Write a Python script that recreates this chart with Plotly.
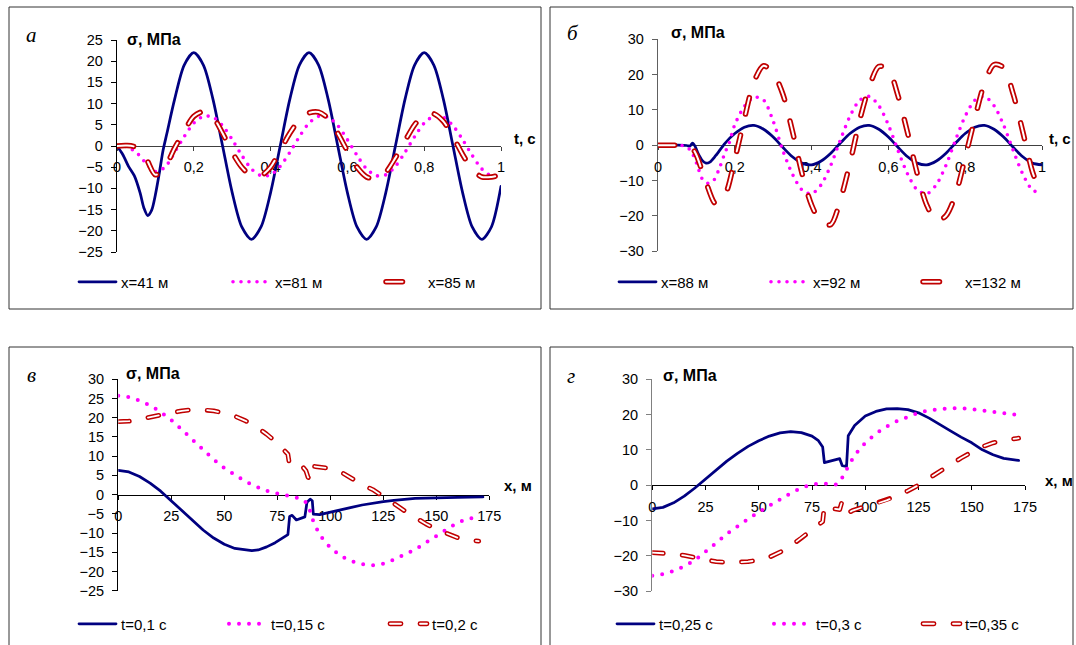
import plotly.graph_objects as go

W, H = 1076, 645
FONT = "Liberation Sans, Arial, sans-serif"
SERIF = "Liberation Serif, Times New Roman, serif"
NAVY, MAGENTA, RED = "#000080", "#FF00FF", "#C00000"

# ---------------- data ----------------
T025 = [0, 0.025, 0.05, 0.075, 0.1, 0.125, 0.15, 0.175, 0.2, 0.225, 0.25, 0.275, 0.3,
        0.325, 0.35, 0.375, 0.4, 0.425, 0.45, 0.475, 0.5, 0.525, 0.55, 0.575, 0.6, 0.625,
        0.65, 0.675, 0.7, 0.725, 0.75, 0.775, 0.8, 0.825, 0.85, 0.875, 0.9, 0.925, 0.95,
        0.975, 1.0]

# panel a : sigma(t), x = 41, 81, 85 m
t_a41 = [0, 0.015, 0.03, 0.045, 0.06, 0.07, 0.08, 0.09, 0.1, 0.11, 0.12, 0.13, 0.15,
         0.175, 0.2, 0.225, 0.25, 0.275, 0.3, 0.325, 0.35, 0.375, 0.4, 0.425, 0.45, 0.475,
         0.5, 0.525, 0.55, 0.575, 0.6, 0.625, 0.65, 0.675, 0.7, 0.725, 0.75, 0.775, 0.8,
         0.825, 0.85, 0.875, 0.9, 0.925, 0.95, 0.975, 1.0]
s_a41 = [0, -2.0, -4.8, -7.0, -11.0, -14.6, -16.4, -15.2, -11.5, -6.5, -1.0, 3.0, 11.0,
         19.1, 22.0, 19.1, 11.0, 0.0, -11.0, -19.1, -22.0, -19.1, -11.0, 0.0, 11.0, 19.1,
         22.0, 19.1, 11.0, 0.0, -11.0, -19.1, -22.0, -19.1, -11.0, 0.0, 11.0, 19.1, 22.0,
         19.1, 11.0, 0.0, -11.0, -19.1, -22.0, -19.1, -9.5]
s_a81 = [0, -0.2, -1.5, -4.0, -6.0, -5.0, -1.5, 2.2, 5.4, 7.0, 6.8, 4.8, 1.5, -2.2, -5.4,
         -7.0, -6.8, -4.8, -1.5, 2.2, 5.4, 7.0, 6.8, 4.8, 1.5, -2.2, -5.4, -7.0, -6.8, -4.8,
         -1.5, 2.2, 5.4, 7.0, 6.8, 4.8, 1.5, -2.2, -5.4, -7.0, -6.8]
s_a85 = [0, 0.1, -0.3, -2.8, -6.8, -5.0, -0.5, 3.5, 7.0, 8.1, 6.8, 3.0, -1.5, -5.0, -7.0,
         -7.0, -5.0, -1.0, 3.0, 6.2, 7.8, 8.0, 6.5, 3.0, -1.2, -5.0, -7.3, -7.7, -6.2, -2.8,
         1.2, 5.0, 7.4, 7.6, 5.8, 2.2, -2.0, -5.5, -7.3, -7.3, -6.8]

# panel b : sigma(t), x = 88, 92, 132 m
t_b88 = [0, 0.025, 0.05, 0.075, 0.083, 0.09, 0.097, 0.105, 0.115, 0.125, 0.135, 0.15,
         0.175, 0.2, 0.225, 0.25, 0.275, 0.3, 0.325, 0.35, 0.375, 0.4, 0.425, 0.45, 0.475,
         0.5, 0.525, 0.55, 0.575, 0.6, 0.625, 0.65, 0.675, 0.7, 0.725, 0.75, 0.775, 0.8,
         0.825, 0.85, 0.875, 0.9, 0.925, 0.95, 0.975, 1.0]
s_b88 = [0, 0, 0, -0.1, -0.3, 0.6, -0.4, -2.5, -4.3, -5.1, -4.8, -3.0,
         0.6, 3.3, 5.1, 5.6, 4.5, 2.3, -0.6, -3.3, -5.1, -5.6, -4.5, -2.3, 0.6, 3.3, 5.1,
         5.6, 4.5, 2.3, -0.6, -3.3, -5.1, -5.6, -4.5, -2.3, 0.6, 3.3, 5.1, 5.6, 4.5, 2.3,
         -0.6, -3.3, -5.1, -5.6]
t_b92 = [0, 0.025, 0.05, 0.07, 0.085, 0.1, 0.115, 0.13, 0.145, 0.16, 0.175, 0.185, 0.2,
         0.225, 0.25, 0.275, 0.3, 0.325, 0.35, 0.375, 0.4, 0.425, 0.45, 0.475, 0.5, 0.525,
         0.55, 0.575, 0.6, 0.625, 0.65, 0.675, 0.7, 0.725, 0.75, 0.775, 0.8, 0.825, 0.85,
         0.875, 0.9, 0.925, 0.95, 0.975, 1.0]
s_b92 = [0, 0, 0, -0.3, -1.5, -5.0, -9.5, -10.8, -10.0, -6.5, -2.0, 0.5, 5.8,
         11.0, 13.6, 12.8, 6.8, -1.5, -8.2, -12.7, -13.8, -11.2, -5.7, 1.5, 8.2, 12.7,
         13.8, 11.2, 5.7, -1.5, -8.2, -12.7, -13.8, -11.2, -5.7, 1.5, 8.2, 12.7, 13.8,
         11.2, 5.7, -1.5, -8.2, -12.7, -13.6]
t_b132 = [0, 0.025, 0.05, 0.075, 0.09, 0.1, 0.125, 0.15, 0.175, 0.2, 0.225, 0.25, 0.275,
          0.3, 0.325, 0.35, 0.375, 0.4, 0.425, 0.45, 0.475, 0.5, 0.525, 0.55, 0.575, 0.6,
          0.625, 0.65, 0.675, 0.7, 0.725, 0.75, 0.775, 0.8, 0.825, 0.85, 0.875, 0.9,
          0.925, 0.95, 0.975, 1.0]
s_b132 = [0, 0, 0, -0.1, -1.0, -2.8, -10.5, -16.6, -14.0, -4.0, 7.5, 18.0, 22.5,
          20.5, 14.5, 4.0, -8.0, -17.0, -22.0, -22.5, -15.5, -5.0, 7.0, 16.5, 22.3, 21.5,
          14.0, 3.5, -8.0, -17.0, -21.5, -20.0, -14.0, -3.5, 7.5, 17.5, 22.8, 22.0,
          14.5, 3.8, -7.5, -14.5]

# panel c : sigma(x), t = 0.1, 0.15, 0.2 s
x_c1 = [0, 5, 10, 15, 20, 25, 30, 35, 40, 45, 50, 55, 60, 63, 66, 70, 74, 78, 80, 80.8,
        82, 84, 86.5, 88, 89, 90.5, 91.5, 92, 95, 100, 105, 110, 115, 120, 125, 130, 135,
        140, 145, 150, 160, 172]
s_c1 = [6.3, 5.9, 4.7, 3.0, 0.9, -1.6, -4.2, -6.8, -9.2, -11.3, -12.9, -14.0, -14.5,
        -14.6, -14.4, -13.6, -12.5, -11.2, -10.4, -5.7, -5.4, -6.6, -6.2, -5.8, -2.0, -1.2,
        -1.6, -5.1, -5.2, -4.5, -3.9, -3.3, -2.7, -2.2, -1.8, -1.5, -1.2, -1.0, -0.9, -0.8,
        -0.7, -0.6]
x_c2 = [0, 5, 10, 15, 20, 25, 30, 35, 40, 45, 50, 55, 60, 65, 70, 75, 80, 85, 88, 90, 92,
        95, 100, 105, 110, 115, 120, 125, 130, 135, 140, 145, 150, 155, 160, 165, 171]
s_c2 = [25.7, 25.4, 24.5, 23.2, 21.5, 19.4, 16.9, 14.2, 11.6, 9.1, 6.9, 5.0, 3.4, 2.1,
        1.0, 0.3, -0.3, -0.9, -1.6, -3.5, -7.0, -10.5, -13.8, -16.0, -17.3, -18.1, -18.4,
        -18.0, -16.9, -15.6, -14.3, -12.5, -10.8, -8.8, -7.3, -6.3, -5.6]
x_c3 = [0, 5, 10, 15, 20, 25, 30, 35, 40, 45, 50, 55, 60, 65, 70, 75, 80, 80.8, 84, 87,
        88.5, 89.5, 90.5, 91, 93, 97, 100, 105, 110, 115, 120, 125, 130, 135, 140, 145,
        150, 155, 160, 165, 170]
s_c3 = [19.0, 19.1, 19.6, 20.2, 20.8, 21.3, 21.8, 22.1, 22.1, 21.8, 21.2, 20.4, 19.2,
        17.7, 15.7, 13.4, 10.5, 7.6, 7.4, 7.2, 6.2, 4.5, 4.0, 7.4, 7.3, 7.1, 6.8, 5.9, 4.2,
        2.6, 1.3, -0.4, -2.3, -4.2, -6.0, -7.6, -9.0, -10.2, -11.2, -11.8, -12.1]

# panel d : sigma(x), t = 0.25, 0.3, 0.35 s
x_d1 = [0, 5, 10, 15, 20, 25, 30, 35, 40, 45, 50, 55, 60, 65, 70, 75, 78, 80, 80.8, 83,
        86, 88, 89.2, 91.2, 92, 95, 100, 105, 110, 115, 120, 125, 130, 135, 140, 145, 150,
        155, 160, 165, 172]
s_d1 = [-6.7, -6.3, -5.0, -3.1, -0.8, 1.7, 4.3, 6.8, 9.0, 11.0, 12.6, 13.9, 14.8, 15.2,
        14.9, 13.9, 12.6, 10.8, 6.4, 6.8, 7.2, 7.5, 5.5, 5.3, 14.0, 16.9, 19.6, 20.9, 21.6,
        21.7, 21.4, 20.5, 19.0, 17.3, 15.4, 13.6, 12.0, 10.0, 8.6, 7.6, 7.0]
x_d2 = [0, 5, 10, 15, 20, 25, 30, 35, 40, 45, 50, 55, 60, 65, 70, 75, 80, 83, 86, 88, 90,
        92, 95, 100, 105, 110, 115, 120, 125, 130, 135, 140, 145, 150, 155, 160, 165, 172]
s_d2 = [-25.7, -25.2, -24.3, -23.0, -21.3, -19.0, -16.4, -13.8, -11.6, -9.6, -7.6, -5.8,
        -4.0, -2.3, -0.8, 0.2, 0.5, 0.2, 0.1, 0.8, 2.8, 5.3, 8.5, 12.0, 14.6, 16.6, 18.2,
        19.5, 20.5, 21.2, 21.6, 21.8, 21.8, 21.6, 21.2, 20.8, 20.4, 19.9]
x_d3 = [0, 5, 10, 15, 20, 25, 30, 35, 40, 45, 50, 55, 60, 65, 70, 75, 80, 80.8, 84, 88,
        89, 91, 92, 94, 100, 105, 110, 115, 120, 125, 130, 135, 140, 145, 150, 155, 160,
        165, 172]
s_d3 = [-19.1, -19.2, -19.5, -19.9, -20.6, -21.2, -21.7, -21.9, -21.9, -21.7, -21.2,
        -20.4, -19.0, -17.2, -15.0, -12.6, -10.3, -5.8, -6.6, -6.9, -4.8, -5.0, -7.9, -7.2,
        -6.0, -5.3, -4.3, -3.1, -1.6, 0.0, 2.0, 4.0, 5.8, 7.7, 9.4, 10.9, 12.0, 12.7, 13.3]

NAMES_A = ["x=41 м", "x=81 м", "x=85 м"]
NAMES_B = ["x=88 м", "x=92 м", "x=132 м"]
NAMES_C = ["t=0,1 с", "t=0,15 с", "t=0,2 с"]
NAMES_D = ["t=0,25 с", "t=0,3 с", "t=0,35 с"]
PANEL_LETTERS = ["а", "б", "в", "г"]
Y_TITLE = "σ, МПа"
X_TITLES = ["t, с", "t, с", "x, м", "x, м"]

# ---------------- layout geometry (pixels) ----------------
panels = [
    dict(left=117, right=501, top=40, bottom=252, xr=[0, 1], yr=[-25, 25], xdt=0.2, ydt=5,
         xline="#404040", yline="#000000", frame=(9, 7, 541, 309),
         letter=(31, 35), ytitle=(125, 39), xtitle=(512, 138),
         leg=[(79, 282), (233, 282), (386, 282)], smooth=True,
         series=[(t_a41, s_a41), (T025, s_a81), (T025, s_a85)], names=NAMES_A),
    dict(left=658, right=1042, top=39.3, bottom=251, xr=[0, 1], yr=[-30, 30], xdt=0.2, ydt=10,
         xline="#404040", yline="#606060", frame=(550, 7, 1073, 309),
         letter=(573, 33), ytitle=(669, 33), xtitle=(1047, 138),
         leg=[(619, 282), (771, 282), (923, 282)], smooth=True,
         series=[(t_b88, s_b88), (t_b92, s_b92), (t_b132, s_b132)], names=NAMES_B),
    dict(left=118.3, right=489.3, top=379.3, bottom=590.7, xr=[0, 175], yr=[-25, 30], xdt=25, ydt=5,
         xline="#000000", yline="#000000", frame=(9, 347, 541, 660),
         letter=(31, 375), ytitle=(124, 373), xtitle=(502, 485),
         leg=[(79, 624), (229, 624), (390, 624)], smooth=False,
         series=[(x_c1, s_c1), (x_c2, s_c2), (x_c3, s_c3)], names=NAMES_C),
    dict(left=652.3, right=1025, top=379.3, bottom=591, xr=[0, 175], yr=[-30, 30], xdt=25, ydt=10,
         xline="#000000", yline="#808080", frame=(550, 347, 1073, 660),
         letter=(571, 376), ytitle=(661, 375), xtitle=(1043, 481),
         leg=[(617, 624), (774, 624), (923, 624)], smooth=False,
         series=[(x_d1, s_d1), (x_d2, s_d2), (x_d3, s_d3)], names=NAMES_D),
]

fig = go.Figure()
layout = dict(width=W, height=H, margin=dict(l=0, r=0, t=0, b=0, autoexpand=False),
              paper_bgcolor="white", plot_bgcolor="white", separators=", ",
              showlegend=True, font=dict(family=FONT, size=14, color="black"))
shapes, annotations = [], []
legend_count = 0


def new_legend(px, py):
    global legend_count
    legend_count += 1
    key = "legend" if legend_count == 1 else f"legend{legend_count}"
    layout[key] = dict(x=(px - 5) / W, y=1 - py / H, xanchor="left", yanchor="middle",
                       orientation="h", bgcolor="rgba(0,0,0,0)", borderwidth=0,
                       font=dict(family=FONT, size=15, color="black"), itemwidth=37,
                       itemclick=False, itemdoubleclick=False, tracegroupgap=0)
    return key


for i, p in enumerate(panels):
    n = "" if i == 0 else str(i + 1)
    xd0, xd1 = p["left"] / W, p["right"] / W
    yd0, yd1 = 1 - p["bottom"] / H, 1 - p["top"] / H
    y0, y1 = p["yr"]
    zero_pos = yd0 + (0 - y0) / (y1 - y0) * (yd1 - yd0)
    layout["xaxis" + n] = dict(domain=[xd0, xd1], range=p["xr"], anchor="free", position=zero_pos,
                               tick0=0, dtick=p["xdt"], showline=True, linecolor=p["xline"],
                               linewidth=1, ticks="outside", ticklen=4, tickwidth=1,
                               tickcolor=p["xline"], showgrid=False, zeroline=False,
                               tickfont=dict(family=FONT, size=14.5, color="black"),
                               ticklabelstandoff=4, layer="below traces", fixedrange=True)
    layout["yaxis" + n] = dict(domain=[yd0, yd1], range=p["yr"], anchor="x" + n,
                               tick0=0, dtick=p["ydt"], showline=True, linecolor=p["yline"],
                               linewidth=1.3, ticks="outside", ticklen=5, tickwidth=1,
                               tickcolor=p["yline"], showgrid=False, zeroline=False,
                               tickfont=dict(family=FONT, size=14.5, color="black"),
                               ticklabelstandoff=5, layer="below traces", fixedrange=True)
    xa, ya = "x" + n, "y" + n
    shape = "spline" if p["smooth"] else "linear"
    if p["smooth"]:
        dot_w, dot_dash = 3.6, "0px,8px"
        red_w, white_w, red_dash = 5.5, 2.0, "16.5px,22px"
    else:
        dot_w, dot_dash = 4.0, "0px,10px"
        red_w, white_w, red_dash = 4.8, 1.8, "11px,19px"
    (xs1, ys1), (xs2, ys2), (xs3, ys3) = p["series"]
    common = dict(mode="lines", xaxis=xa, yaxis=ya, hoverinfo="skip")
    fig.add_trace(go.Scatter(x=xs1, y=ys1, name=p["names"][0], legend=new_legend(*p["leg"][0]),
                             line=dict(color=NAVY, width=2.75, shape=shape, smoothing=0.8), **common))
    fig.add_trace(go.Scatter(x=xs2, y=ys2, name=p["names"][1], legend=new_legend(*p["leg"][1]),
                             line=dict(color=MAGENTA, width=dot_w, dash=dot_dash, shape=shape,
                                       smoothing=0.8), **common))
    fig.add_trace(go.Scatter(x=xs3, y=ys3, name=p["names"][2], legend=new_legend(*p["leg"][2]),
                             line=dict(color=RED, width=red_w, dash=red_dash, shape=shape,
                                       smoothing=0.8), **common))
    fig.add_trace(go.Scatter(x=xs3, y=ys3, name=" ", legend=new_legend(*p["leg"][2]),
                             line=dict(color="white", width=white_w, dash=red_dash, shape=shape,
                                       smoothing=0.8), **common))

    fx0, fy0, fx1, fy1 = p["frame"]
    shapes.append(dict(type="rect", xref="paper", yref="paper", x0=fx0 / W, x1=fx1 / W,
                       y0=1 - fy1 / H, y1=1 - fy0 / H, line=dict(color="#333333", width=1),
                       fillcolor="rgba(0,0,0,0)", layer="below"))
    lx, ly = p["letter"]
    annotations.append(dict(text=PANEL_LETTERS[i], x=lx / W, y=1 - ly / H, xref="paper", yref="paper",
                            xanchor="center", yanchor="middle", showarrow=False,
                            font=dict(family=SERIF, size=21, color="black", style="italic")))
    tx, ty = p["ytitle"]
    annotations.append(dict(text="<b>" + Y_TITLE + "</b>", x=tx / W, y=1 - ty / H, xref="paper",
                            yref="paper", xanchor="left", yanchor="middle", showarrow=False,
                            font=dict(family=FONT, size=16, color="black")))
    qx, qy = p["xtitle"]
    annotations.append(dict(text="<b>" + X_TITLES[i] + "</b>", x=qx / W, y=1 - qy / H, xref="paper",
                            yref="paper", xanchor="left", yanchor="middle", showarrow=False,
                            font=dict(family=FONT, size=15, color="black")))

layout["shapes"] = shapes
layout["annotations"] = annotations
fig.update_layout(**layout)

post = ("var st=document.createElement('style');"
        "st.innerHTML='html,body{margin:0;padding:0;}"
        ".js-line{stroke-linecap:round;stroke-linejoin:round;}';"
        "document.head.appendChild(st);")
fig.write_html("out.html", config={"displayModeBar": False, "staticPlot": True}, post_script=post)
